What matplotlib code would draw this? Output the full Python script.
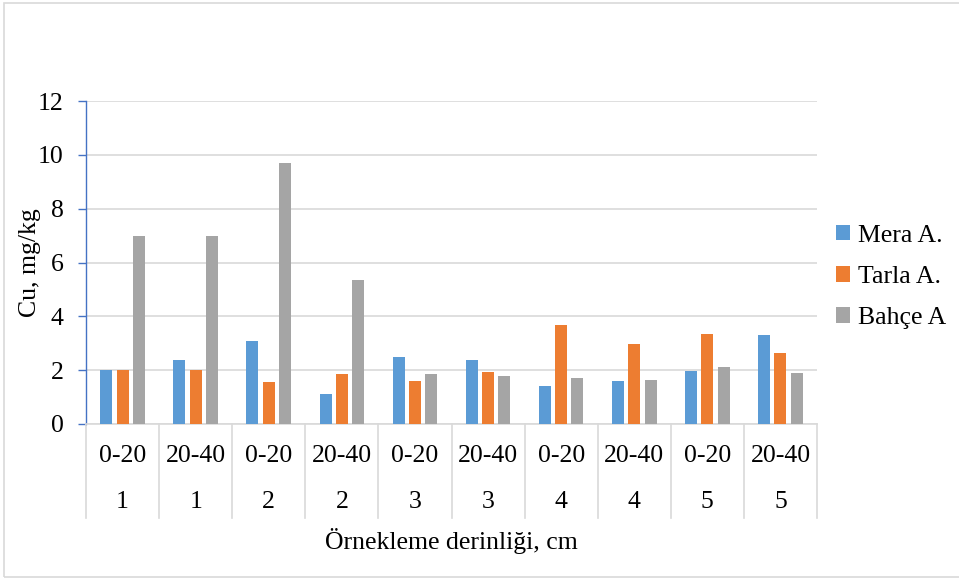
import numpy as np
import matplotlib.pyplot as plt
from matplotlib.patches import Rectangle

plt.rcParams['font.family'] = ['Liberation Serif', 'DejaVu Serif']

depths = ["0-20", "20-40", "0-20", "20-40", "0-20", "20-40", "0-20", "20-40", "0-20", "20-40"]
sites = ["1", "1", "2", "2", "3", "3", "4", "4", "5", "5"]
mera = [2.02, 2.36, 3.09, 1.12, 2.49, 2.39, 1.41, 1.60, 1.98, 3.30]
tarla = [2.02, 2.00, 1.57, 1.84, 1.60, 1.92, 3.66, 2.99, 3.36, 2.65]
bahce = [6.97, 6.97, 9.69, 5.34, 1.84, 1.80, 1.72, 1.65, 2.10, 1.91]
series_names = ["Mera A.", "Tarla A.", "Bahçe A"]
colors = ["#5B9BD5", "#ED7D31", "#A5A5A5"]

W, H = 959, 581
fs = 18.5
fig = plt.figure(figsize=(W / 100, H / 100), dpi=100)
ax = fig.add_axes([86 / W, 1 - 424 / H, (817 - 86) / W, (424 - 101) / H])

x = np.arange(len(depths))
width = 0.165
step = 0.223
for i, (vals, name, c) in enumerate(zip([mera, tarla, bahce], series_names, colors)):
    ax.bar(x + (i - 1) * step, vals, width, color=c, label=name, zorder=3)

ax.set_xlim(-0.5, len(depths) - 0.5)
ax.set_ylim(0, 12)
ax.set_yticks(np.arange(0, 13, 2))
ax.tick_params(axis="y", labelsize=fs, length=6, width=1, color="#4472C4", pad=10)
ax.set_xticks([])
ax.yaxis.grid(True, color="#D9D9D9", linewidth=1.2, zorder=0)
ax.set_axisbelow(True)

for s in ["top", "right"]:
    ax.spines[s].set_visible(False)
ax.spines["left"].set_color("#4472C4")
ax.spines["left"].set_linewidth(1)
ax.spines["bottom"].set_color("#D9D9D9")
ax.spines["bottom"].set_linewidth(1.2)

# multi-level category axis
trans = ax.get_xaxis_transform()
sep_bottom = (424 - 518) / (424 - 101)
for b in np.arange(-0.5, len(depths), 1.0):
    ax.plot([b, b], [0, sep_bottom], transform=trans, color="#D9D9D9",
            linewidth=1.2, clip_on=False)
for xi, d, s in zip(x, depths, sites):
    ax.text(xi, (424 - 456) / 323, d, transform=trans, ha="center", va="center", fontsize=fs)
    ax.text(xi, (424 - 502) / 323, s, transform=trans, ha="center", va="center", fontsize=fs)

fig.text(451 / W, 1 - 541 / H, "Örnekleme derinliği, cm", ha="center", va="center", fontsize=fs)
fig.text(30 / W, 1 - 263 / H, "Cu, mg/kg", ha="center", va="center", rotation=90, fontsize=fs)

fig.legend(loc="center left", bbox_to_anchor=(826 / W, 1 - 277 / H), frameon=False,
           fontsize=fs, handlelength=0.55, handleheight=0.55, handletextpad=0.3,
           labelspacing=0.75, borderaxespad=0)

fig.add_artist(Rectangle((4 / W, 4 / H), 1.0, 1 - 7 / H, transform=fig.transFigure,
                         fill=False, edgecolor="#D9D9D9", linewidth=1.2))

fig.savefig("out.png", dpi=100)
